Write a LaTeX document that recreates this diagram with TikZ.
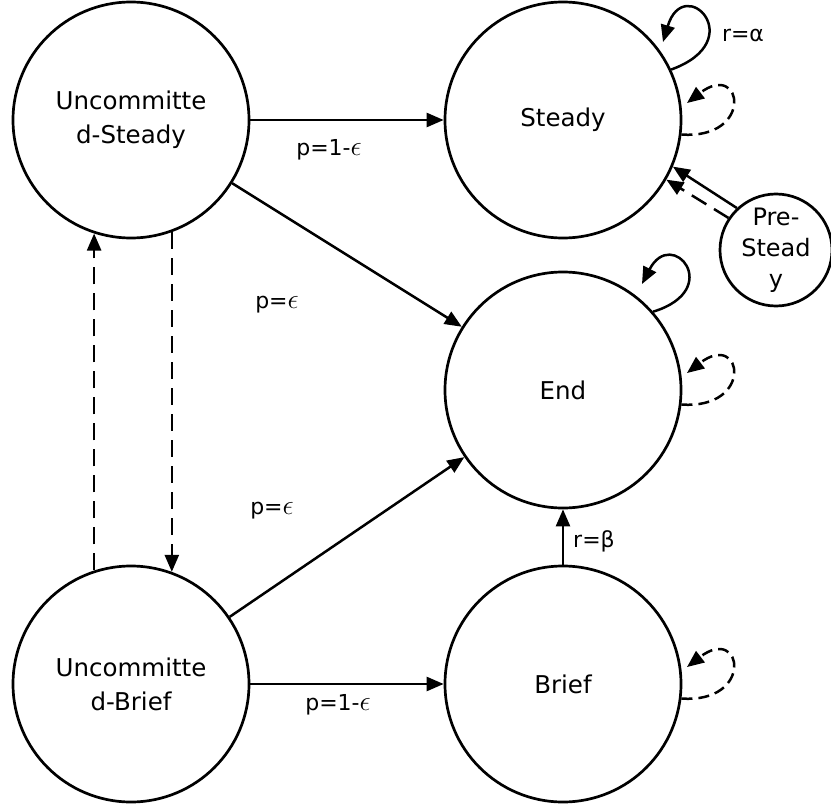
\RequirePackage{fix-cm}
\documentclass[tikz,border=0pt]{standalone}
\usepackage{fontspec}
\setmainfont{DejaVu Sans}
\usetikzlibrary{arrows.meta}
\newcommand{\eps}{{\fontsize{28}{30}\selectfont$\epsilon$}}
\begin{document}
\begin{tikzpicture}[x=1pt,y=-1pt,
  state/.style={circle,draw,line width=2.7pt,minimum size=236pt,inner sep=0pt,align=center,font=\fontsize{24.5}{34}\selectfont},
  arr/.style={line width=2.5pt,-{Triangle[length=17pt,width=14pt]}},
  darr/.style={arr,dash pattern=on 17pt off 9pt},
  lrr/.style={arr,dash pattern=on 11pt off 6pt},
  lbl/.style={font=\fontsize{22}{26}\selectfont,anchor=base,inner sep=0pt}]
\useasboundingbox (0,0) rectangle (831,808);
\node[state] (us) at (131,120) {Uncommitte\\d-Steady};
\node[state] (steady) at (563,120) {Steady};
\node[state,minimum size=112pt,font=\fontsize{24}{31}\selectfont] (pre) at (776,250) {Pre-\\Stead\\y};
\node[state] (endn) at (563,390) {End};
\node[state] (ub) at (131,684) {Uncommitte\\d-Brief};
\node[state] (brief) at (563,684) {Brief};
% transitions
\draw[arr] (us) -- (steady);
\draw[arr] (us) -- (endn);
\draw[arr] (ub) -- (endn);
\draw[arr] (ub) -- (brief);
\draw[arr] (brief) -- (endn);
\draw[darr] (ub.108.3) -- (us.-108.3);
\draw[darr] (us.-70.7) -- (ub.70.7);
\draw[arr] (pre.133) -- (steady.-23.4);
\draw[darr] (pre.146.6) -- (steady.-30.8);
% self loops
\draw[arr] (steady.25) .. controls +(80,-29) and +(21,-70) .. ([shift={(100,-78)}]steady.center);
\draw[lrr] (steady.-7) .. controls +(73,5) and +(56,-43) .. ([shift={(124,-17)}]steady.center);
\draw[arr] (endn.41) .. controls +(72,-22) and +(30,-58) .. ([shift={(79,-106)}]endn.center);
\draw[lrr] (endn.-7) .. controls +(73,5) and +(56,-43) .. ([shift={(124,-17)}]endn.center);
\draw[lrr] (brief.-7) .. controls +(73,5) and +(56,-43) .. ([shift={(124,-17)}]brief.center);
% labels
\node[lbl] at (329,155) {p=1-\eps};
\node[lbl] at (277,308) {p=\eps};
\node[lbl] at (272,514) {p=\eps};
\node[lbl] at (338,710) {p=1-\eps};
\node[lbl] at (594,547) {r=β};
\node[lbl] at (743,42) {r=α};
\end{tikzpicture}
\end{document}
